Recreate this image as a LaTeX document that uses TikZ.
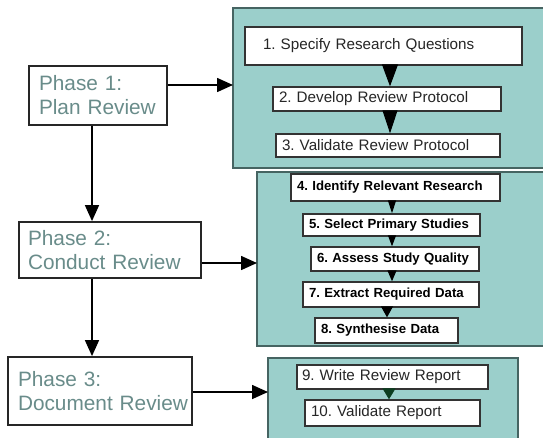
\documentclass[tikz,border=0pt]{standalone}
\usepackage{fontspec}
\setmainfont{Liberation Sans}
\usetikzlibrary{arrows.meta}
\definecolor{panelfill}{RGB}{155,207,203}
\definecolor{paneledge}{RGB}{70,100,98}
\definecolor{phasetext}{RGB}{105,140,138}
\definecolor{darkgreen}{RGB}{12,62,32}
\frenchspacing
\tikzset{
  every node/.style={execute at begin node=\frenchspacing},
  panel/.style={fill=panelfill,draw=paneledge,line width=1.2pt},
  phase/.style={draw=black!85,line width=1.8pt,fill=white,align=left,text=phasetext,
    font=\fontsize{20.8}{24}\selectfont,inner ysep=0pt},
  stepbox/.style={draw=black!80,line width=1.4pt,fill=white,align=left,inner ysep=0pt,
    font=\fontsize{15.2}{17}\selectfont,text=black!85},
  boldbox/.style={stepbox,font=\fontsize{13.2}{15}\bfseries\selectfont,text=black},
  conn/.style={line width=1.6pt,-{Triangle[length=16pt,width=14pt]}},
}
\begin{document}
\begin{tikzpicture}[x=1pt,y=-1pt]
\clip (0,0) rectangle (543,437);
\fill[white] (0,0) rectangle (543,437);
% panels
\draw[panel] (233,8) rectangle (550,168);
\draw[panel] (257,172) rectangle (550,346);
\draw[panel] (268,358) rectangle (518,445);
% phase boxes
\node[phase,minimum width=138pt,minimum height=59pt,text width=118pt,inner xsep=10pt] (p1) at (98,95.5) {\mbox{Phase 1:}\\\mbox{Plan Review}};
\node[phase,minimum width=182pt,minimum height=56pt,text width=164pt,inner xsep=9pt] (p2) at (110,250) {\mbox{Phase 2:}\\\mbox{Conduct Review}};
\node[phase,minimum width=184pt,minimum height=68pt,text width=172pt,inner xsep=6pt] (p3) at (100,391) {\mbox{\hspace*{4pt}Phase 3:}\\\mbox{\hspace*{4pt}Document Review}};
% panel anchors
\coordinate (q1) at (233,85);
\coordinate (q2) at (257,263);
\coordinate (q3) at (268,392);
\coordinate (vx) at (92,0);
% step boxes
\node[stepbox,minimum width=277pt,minimum height=38pt,text width=259pt,inner xsep=9pt] (b1) at (383.5,46) {\hspace*{9pt}1. Specify Research Questions};
\node[stepbox,minimum width=228pt,minimum height=24pt,text width=216pt,inner xsep=6pt] (b2) at (387,99) {2. Develop Review Protocol};
\node[stepbox,minimum width=224pt,minimum height=23pt,text width=212pt,inner xsep=6pt] (b3) at (388,145.5) {3. Validate Review Protocol};
\node[boldbox,minimum width=209pt,minimum height=27pt,text width=197pt,inner xsep=6pt] (b4) at (395.5,187.5) {4. Identify Relevant Research};
\node[boldbox,minimum width=177pt,minimum height=22pt,text width=165pt,inner xsep=6pt] (b5) at (391.5,225) {5. Select Primary Studies};
\node[boldbox,minimum width=168pt,minimum height=24pt,text width=156pt,inner xsep=6pt] (b6) at (395,259) {6. Assess Study Quality};
\node[boldbox,minimum width=176pt,minimum height=25pt,text width=164pt,inner xsep=6pt] (b7) at (391,294.5) {7. Extract Required Data};
\node[boldbox,minimum width=143pt,minimum height=25pt,text width=131pt,inner xsep=6pt] (b8) at (386.5,330.5) {8. Synthesise Data};
\node[stepbox,minimum width=191pt,minimum height=24pt,text width=181pt,inner xsep=5pt] (b9) at (392.5,377) {9. Write Review Report};
\node[stepbox,minimum width=175pt,minimum height=26pt,text width=163pt,inner xsep=6pt] (b10) at (392.5,413) {10. Validate Report};
% phase connectors
\draw[conn] (p1.east |- q1) -- (q1);
\draw[conn] (p2.east |- q2) -- (q2);
\draw[conn] (p3.east |- q3) -- (q3);
\draw[conn] (vx |- p1.south) -- (vx |- p2.north);
\draw[conn] (vx |- p2.south) -- (vx |- p3.north);
% step connectors
\coordinate (s1) at (390,0);
\coordinate (s2) at (392,0);
\coordinate (s3) at (387,0);
\coordinate (s4) at (389,0);
\draw[line width=1pt,-{Triangle[length=22pt,width=16pt]}] (s1 |- b1.south) -- (s1 |- b2.north);
\draw[line width=1pt,-{Triangle[length=23pt,width=15pt]}] (s1 |- b2.south) -- (s1 |- b3.north);
\draw[line width=1pt,-{Triangle[length=13pt,width=8pt]}] (s2 |- b4.south) -- (s2 |- b5.north);
\draw[line width=1pt,-{Triangle[length=11pt,width=8pt]}] (s2 |- b5.south) -- (s2 |- b6.north);
\draw[line width=1pt,-{Triangle[length=11pt,width=9pt]}] (s2 |- b6.south) -- (s2 |- b7.north);
\draw[line width=1pt,-{Triangle[length=11pt,width=12pt]}] (s3 |- b7.south) -- (s3 |- b8.north);
\draw[line width=1pt,darkgreen,-{Triangle[length=11pt,width=13pt]}] (s4 |- b9.south) -- (s4 |- b10.north);
\end{tikzpicture}
\end{document}
